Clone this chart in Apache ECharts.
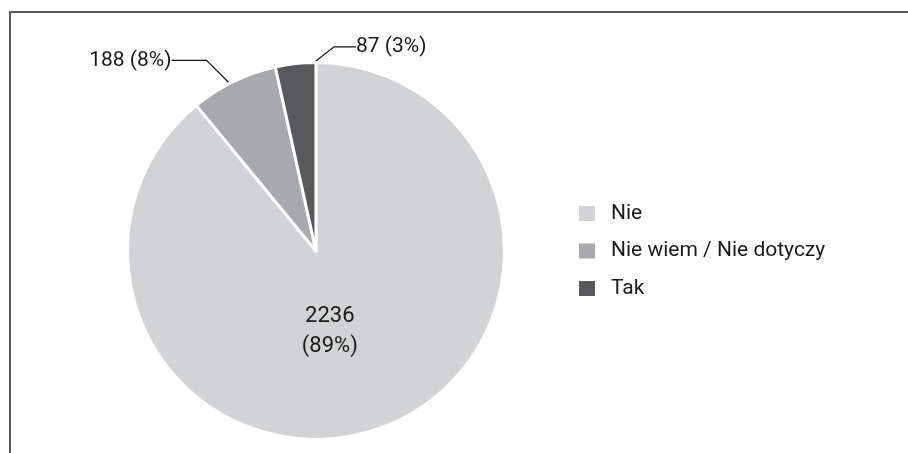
<!DOCTYPE html>
<html><head><meta charset="utf-8">
<script src="https://cdn.jsdelivr.net/npm/echarts@6/dist/echarts.min.js"></script>
<style>
html,body{margin:0;padding:0;background:#fff;overflow:hidden;width:908px;height:453px}
#frame{position:absolute;left:9px;top:11px;width:1200px;height:1200px;border-left:2px solid #58595b;border-top:2px solid #58595b;box-sizing:border-box}
#chart{position:absolute;left:0;top:0;width:908px;height:453px}
</style></head><body>
<div id="frame"></div><div id="chart"></div>
<script>
const categories = ['Nie', 'Nie wiem / Nie dotyczy', 'Tak'];
const counts = [2236, 188, 87];
const percents = [89, 8, 3];
const colors = ['#d1d3d4', '#a7a9ac', '#58595b'];

const FONT = 'Roboto, "Liberation Sans", sans-serif';
const TEXT = '#1a1a1a';
// label nudges (pixels) relative to the library's default label position
const nudges = [[-19, -11], [-9, 1], [161, 10.5]];

function nudge(p) {
  const s = nudges[p.dataIndex];
  const r = p.labelRect;
  return { x: r.x + r.width / 2 + s[0], y: r.y + r.height / 2 + s[1], align: 'center', verticalAlign: 'middle' };
}

const mainData = categories.map((c, i) => ({
  name: c, value: counts[i],
  itemStyle: { color: colors[i] },
  label: { show: i === 0 },
  labelLine: { show: false }
}));
const overlayData = categories.map((c, i) => ({
  name: c, value: counts[i],
  label: { show: i !== 0 },
  labelLine: i === 2 ? { show: true, length2: 22 } : { show: i !== 0 }
}));

const chart = echarts.init(document.getElementById('chart'), null, { renderer: 'canvas' });
chart.setOption({
  animation: false,
  legend: {
    orient: 'vertical', left: 577, top: 203, padding: 0,
    itemWidth: 18, itemHeight: 17, itemGap: 16.5, icon: 'rect',
    data: categories,
    textStyle: { fontFamily: FONT, fontSize: 21, color: TEXT, padding: [0, 0, 0, 10] }
  },
  series: [
    {
      name: 'main', type: 'pie', center: [316, 251], radius: 188.5,
      startAngle: 90, clockwise: true, silent: true,
      itemStyle: { borderColor: '#fff', borderWidth: 3 },
      label: {
        position: 'inside', fontFamily: FONT, fontSize: 22, lineHeight: 30, color: TEXT,
        formatter: p => p.value + '\n(' + percents[p.dataIndex] + '%)'
      },
      labelLayout: nudge,
      data: mainData
    },
    {
      name: 'labels', type: 'pie', center: [316, 251], radius: 176,
      startAngle: 90, clockwise: true, silent: true,
      itemStyle: { color: 'rgba(0,0,0,0)', borderWidth: 0 },
      label: {
        position: 'outside', fontFamily: FONT, fontSize: 21, color: TEXT,
        formatter: p => p.value + ' (' + percents[p.dataIndex] + '%)'
      },
      labelLine: { length: 40, length2: 35, lineStyle: { color: '#111', width: 1.2 } },
      labelLayout: nudge,
      data: overlayData
    }
  ]
});
</script>
</body></html>
